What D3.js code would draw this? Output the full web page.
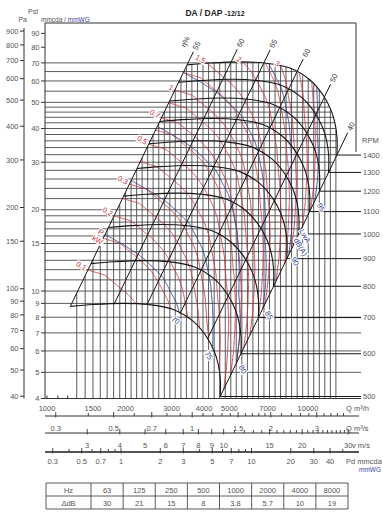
<!DOCTYPE html>
<html><head><meta charset="utf-8">
<script src="https://cdn.jsdelivr.net/npm/d3@7"></script>
<style>body{margin:0;background:#fff}svg{display:block}text{font-family:"Liberation Sans",Arial,sans-serif}</style>
</head><body><svg id="c" width="383" height="515"></svg>
<script>
// ---------- data ----------
const titleMain = "DA / DAP", titleSize = "-12/12";
const rpmValues = [500,600,700,800,900,1000,1100,1200,1300,1400];
const curveRpm = 1400;                       // reference fan curve (top of envelope)
const curveQ = [3440,4210,5490,6840,8530,10180,11420,12250,12690,12920,12910]; // m3/h
const curveP = [68.8,69.9,70.6,69.9,67.0,60.5,53.2,46.8,41.9,36.9,31.9];         // mmcda
const effValues = [55,60,65,60,50,40];
const effQ = [3440,5070,6770,9060,11540,12910];   // where each efficiency line meets the 1400 rpm curve
const powerKW = [0.1,0.2,0.3,0.5,0.7,1,1.5,2,3];             // labelled power lines
const powerKWUnlabelled = [0.15,0.25,0.4,0.6,0.85,1.25,2.5,4,5];
const powerRefQ = [3440,4100,5630,6185,7880,9500,11000,12250,12690,12920,12910]; // along 1400 rpm curve
const powerRefKW = [1.38,1.5,2.0,2.2,3.0,4.2,5.8,7.5,8.5,9.3,10];
const noiseDB = [70,75,80,85,90,95];
const noiseRefQ = [3440,5000,7000,9050,10800,12100,12910];             // along 1400 rpm curve
const noiseRefDB = [85.7,87.7,89.9,92.4,95.0,97.4,99.2];
const gridP = [9,10,11,12,13,14,15,16,17,18,19,20,22,24,26,28,30,32,34,36,38,40,42,44,46,48,50,55,60,65,70];
const fullP = [5,6,7,8];
const gridQ = [1300,1400,1500,1600,1700,1800,1900,2000,2100,2205,2315,2430,2550,2680,2815,2955,3100,3260,3420,3590,3770,
  3960,4160,4370,4590,4820,5060,5310,5580,5860,6150,6460,6780,7120,7480,7850,8240,8650,9090,9540,10020,10520,11050,11600,12180,12790];
const mmTicks = [4,5,6,7,8,9,10,15,20,30,40,50,60,70,80,90];
const paTicks = [40,50,60,70,80,90,100,150,200,300,400,500,600,700,800,900];
const qhLabels = [1000,1500,2000,3000,4000,5000,7000,10000];
const qsLabels = [0.3,0.5,0.7,1,1.5,2,3];
const qsTicks = [0.3,0.4,0.5,0.6,0.7,0.8,0.9,1,1.1,1.2,1.3,1.4,1.5,1.6,1.7,1.8,1.9,2,2.2,2.4,2.6,2.8,3,3.2,3.4,3.6,3.8];
const vLabels = [3,4,5,6,7,8,9,10,15,20,30];
const vTicks = [3,4,5,6,7,8,9,10,11,12,13,14,15,16,17,18,19,20,21,22,23,24,25,26,27,28,29,30];
const pdLabels = [0.3,0.5,0.7,1,2,3,5,7,10,20,30,40];
const pdTicks = [0.3,0.4,0.5,0.6,0.7,0.8,0.9,1,2,3,4,5,6,7,8,9,10,20,30,40,50];
const outletArea = 0.132; // m2
const hzBands = [63,125,250,500,1000,2000,4000,8000];
const deltaDB = [30,21,15,8,3.8,5.7,10,19];

// ---------- setup ----------
const svg = d3.select('#c');
const LOG = Math.log10;
const xs = d3.scaleLog().domain([1000,10000]).range([47,308]);
const ys = d3.scaleLog().domain([4,40]).range([398.5,128.5]);
const GRAY = '#4a4a4a', TXT = '#555', RED = '#c9303a', BLUE = '#2c3c8e', BLK = '#151515';
const FS = 7.5;

const bX = curveQ.map(LOG), bY = curveP.map(LOG);
const bPhi = bX.map((x,i)=>x - bY[i]/2);
const PHI0 = bPhi[0], PHI1 = bPhi[bPhi.length-1];

function pt(phi, n){
  let i=0; while(i<bPhi.length-2 && phi>bPhi[i+1]) i++;
  const t=(phi-bPhi[i])/(bPhi[i+1]-bPhi[i]);
  const X=bX[i]+t*(bX[i+1]-bX[i]), Y=bY[i]+t*(bY[i+1]-bY[i]);
  const k=LOG(n/curveRpm);
  return [xs(Math.pow(10,X+k)), ys(Math.pow(10,Y+2*k))];
}
function phiAtQ(Q){
  const X=LOG(Q);
  for(let i=bX.length-2;i>=0;i--){
    const a=bX[i], b=bX[i+1];
    if((X-a)*(X-b)<=0){ const t=(b===a)?1:(X-a)/(b-a); return bPhi[i]+t*(bPhi[i+1]-bPhi[i]); }
  }
  return X<bX[0]?PHI0:PHI1;
}
function interp(phis, vals){
  return function(phi){
    let i=0; while(i<phis.length-2 && phi>phis[i+1]) i++;
    const t=(phi-phis[i])/(phis[i+1]-phis[i]);
    return vals[i]+t*(vals[i+1]-vals[i]);
  };
}
const powLog = interp(powerRefQ.map(phiAtQ), powerRefKW.map(LOG));
const noiseAt = interp(noiseRefQ.map(phiAtQ), noiseRefDB);

function isoLine(nFn){
  const pts=[]; const N=400; let prev=null;
  const nMin=rpmValues[0], nMax=curveRpm;
  for(let j=0;j<=N;j++){
    const phi=PHI0+(PHI1-PHI0)*j/N; const n=nFn(phi);
    const inside = n>=nMin && n<=nMax;
    if(prev && prev.inside!==inside){
      let lo=prev.phi, hi=phi;
      for(let k=0;k<30;k++){ const m=(lo+hi)/2; const nm=nFn(m); const im=nm>=nMin&&nm<=nMax; if(im===prev.inside) lo=m; else hi=m; }
      const outN = inside ? prev.n : n;
      pts.push(pt((lo+hi)/2, outN<nMin?nMin:nMax));
    }
    if(inside) pts.push(pt(phi,n));
    prev={phi,n,inside};
  }
  return pts;
}
const line = d3.line();
function label(g,x,y,rot,txt,color,anchor,size,bg){
  const gg=g.append('g').attr('transform',`translate(${x},${y}) rotate(${rot})`);
  const r=gg.append('rect').attr('fill','#fff');
  const t=gg.append('text').text(txt).attr('fill',color).attr('font-size',size)
    .attr('text-anchor',anchor).attr('dominant-baseline','central');
  if(bg!==false){ const bb=t.node().getBBox(); r.attr('x',bb.x-0.6).attr('y',bb.y+0.8).attr('width',bb.width+1.2).attr('height',Math.max(0,bb.height-1.6)); }
  return gg;
}

const gGrid=svg.append('g'), gCol=svg.append('g'), gBlk=svg.append('g'), gLab=svg.append('g'), gAx=svg.append('g');

// ---------- grid ----------
function topY(X){
  const kMin=LOG(rpmValues[0]/curveRpm);
  if(X<bX[0]){ if(X<bX[0]+kMin) return null; return bY[0]+2*(X-bX[0]); }
  for(let i=0;i<bX.length-1;i++){ if(X>=bX[i]&&X<=bX[i+1]){ const t=(X-bX[i])/(bX[i+1]-bX[i]); return bY[i]+t*(bY[i+1]-bY[i]); } }
  return null;
}
function rightX(Y){
  const L=bX.length-1;
  if(Y<=bY[L]) return bX[L]+(Y-bY[L])/2;
  for(let i=L-1;i>=0;i--){ const a=bY[i], b=bY[i+1]; if((Y-a)*(Y-b)<=0){ const t=(b===a)?0:(Y-a)/(b-a); return bX[i]+t*(bX[i+1]-bX[i]); } }
  return null;
}
gridQ.forEach(q=>{
  const Y=topY(LOG(q)); if(Y===null) return;
  gGrid.append('line').attr('x1',xs(q)).attr('x2',xs(q)).attr('y1',ys(4)).attr('y2',ys(Math.pow(10,Y)))
    .attr('stroke',GRAY).attr('stroke-width',0.9);
});
gridP.forEach(p=>{
  const X=rightX(LOG(p)); if(X===null) return;
  gGrid.append('line').attr('x1',45).attr('x2',xs(Math.pow(10,X))).attr('y1',ys(p)).attr('y2',ys(p))
    .attr('stroke',GRAY).attr('stroke-width',0.9);
});
fullP.forEach(p=>{
  gGrid.append('line').attr('x1',45).attr('x2',361).attr('y1',ys(p)).attr('y2',ys(p)).attr('stroke',GRAY).attr('stroke-width',0.9);
});

// ---------- power (red) ----------
const powerLine = W=>isoLine(phi=>curveRpm*Math.cbrt(W/Math.pow(10,powLog(phi))));
powerKWUnlabelled.forEach(W=>{
  gCol.append('path').attr('d',line(powerLine(W))).attr('fill','none').attr('stroke',RED).attr('stroke-width',0.85);
});
const redPaths = powerKW.map(W=>{
  const pts=powerLine(W);
  gCol.append('path').attr('d',line(pts)).attr('fill','none').attr('stroke',RED).attr('stroke-width',0.9);
  return {W,pts};
});
// ---------- noise (blue) ----------
const bluePaths = noiseDB.map(L=>{
  const pts=isoLine(phi=>curveRpm*Math.pow(10,(L-noiseAt(phi))/50));
  gCol.append('path').attr('d',line(pts)).attr('fill','none').attr('stroke',BLUE).attr('stroke-width',0.9);
  return {L,pts};
});

// ---------- efficiency lines ----------
const effPhi = effQ.map(phiAtQ);
effPhi.forEach((phi,i)=>{
  const last = i===effPhi.length-1;
  const a=pt(phi,rpmValues[0]), b=pt(phi,last?1540:1480);
  gBlk.append('line').attr('x1',a[0]).attr('y1',a[1]).attr('x2',b[0]).attr('y2',b[1]).attr('stroke',BLK).attr('stroke-width',1);
  label(gLab,b[0]+1.5,b[1]-2.5,-64,String(effValues[i]),'#333','start',FS,true);
  if(i===0) label(gLab,b[0]-8,b[1]-10,-64,'η%','#333','middle',FS,false);
});
// ---------- rpm curves ----------
const curveLine=d3.line().curve(d3.curveCatmullRom.alpha(0.5));
rpmValues.forEach(n=>{
  const pts=bPhi.map(phi=>pt(phi,n));
  gBlk.append('path').attr('d',curveLine(pts)).attr('fill','none').attr('stroke',BLK).attr('stroke-width',1.1);
  const e=pt(PHI1,n);
  gBlk.append('line').attr('x1',e[0]).attr('x2',361).attr('y1',e[1]).attr('y2',e[1]).attr('stroke',BLK).attr('stroke-width',1);
  gAx.append('text').attr('x',363).attr('y',e[1]+2.7).attr('font-size',FS).attr('fill',TXT).text(n);
});
gAx.append('text').attr('x',362).attr('y',143).attr('font-size',FS).attr('fill',TXT).text('RPM');

// labels for coloured lines
redPaths.forEach(({W,pts})=>{
  const s=pts[0];
  label(gLab,s[0]-2,s[1]-1.5,30,String(W).replace('.',','),RED,'end',FS);
});
label(gLab,101,232,30,'P',RED,'middle',FS);
label(gLab,97.5,240,30,'kW',RED,'middle',FS);
const rb = pt(PHI1, rpmValues[0]), rt=pt(PHI1,curveRpm);
bluePaths.forEach(({L,pts})=>{
  const e=pts[pts.length-1];
  const onRight = Math.abs((e[0]-rb[0])*(rt[1]-rb[1])-(e[1]-rb[1])*(rt[0]-rb[0]))/Math.hypot(rt[0]-rb[0],rt[1]-rb[1])<1.5;
  if(onRight) label(gLab,e[0]+6,e[1]+7,60,String(L),BLUE,'middle',FS);
  else label(gLab,e[0]-4,e[1]+7,L<73?35:60,String(L),BLUE,'middle',FS);
});
label(gLab,305,236,60,'LwA',BLUE,'middle',FS);
label(gLab,300.5,247,60,'dB(A)',BLUE,'middle',FS);

// ---------- frame & left axes ----------
gAx.append('line').attr('x1',45).attr('x2',356).attr('y1',23).attr('y2',23).attr('stroke','#333').attr('stroke-width',1);
gAx.append('line').attr('x1',356).attr('x2',356).attr('y1',23).attr('y2',152).attr('stroke','#333').attr('stroke-width',1);
gAx.append('line').attr('x1',45).attr('x2',45).attr('y1',23).attr('y2',ys(4)).attr('stroke','#333').attr('stroke-width',1);
gAx.append('line').attr('x1',45).attr('x2',361).attr('y1',ys(4)).attr('y2',ys(4)).attr('stroke','#333').attr('stroke-width',1);
mmTicks.forEach(v=>{
  gAx.append('line').attr('x1',41).attr('x2',45).attr('y1',ys(v)).attr('y2',ys(v)).attr('stroke','#333');
  gAx.append('text').attr('x',39.5).attr('y',ys(v)+2.7).attr('text-anchor','end').attr('font-size',FS).attr('fill',TXT).text(v);
});
gAx.append('line').attr('x1',24).attr('x2',24).attr('y1',28).attr('y2',ys(4)).attr('stroke','#333').attr('stroke-width',1);
paTicks.forEach(v=>{
  const y=ys(v/9.80665);
  gAx.append('line').attr('x1',20).attr('x2',24).attr('y1',y).attr('y2',y).attr('stroke','#333');
  gAx.append('text').attr('x',18.5).attr('y',y+2.7).attr('text-anchor','end').attr('font-size',FS).attr('fill',TXT).text(v);
});
gAx.append('text').attr('x',28).attr('y',14).attr('font-size',7).attr('fill',TXT).text('Pst');
gAx.append('text').attr('x',27).attr('y',22).attr('text-anchor','end').attr('font-size',7).attr('fill',TXT).text('Pa');
const hdr=gAx.append('text').attr('x',41).attr('y',22).attr('font-size',6.5).attr('fill',TXT);
hdr.append('tspan').text('mmcda / ');
hdr.append('tspan').attr('fill','#3b3f9a').text('mmWG');
const ttl=gAx.append('text').attr('x',215).attr('y',16).attr('text-anchor','middle').attr('fill','#222');
ttl.append('tspan').attr('font-size',8.5).attr('font-weight','bold').text(titleMain+' ');
ttl.append('tspan').attr('font-size',7).attr('font-weight','bold').text(titleSize);

// ---------- bottom axes ----------
[1000,1100,1200].forEach(q=>gAx.append('line').attr('x1',xs(q)).attr('x2',xs(q)).attr('y1',ys(4)).attr('y2',ys(4)-3).attr('stroke','#333'));
qhLabels.forEach(q=>gAx.append('text').attr('x',xs(q)).attr('y',411).attr('text-anchor','middle').attr('font-size',FS).attr('fill',TXT).text(q));
gAx.append('text').attr('x',346).attr('y',411).attr('font-size',FS).attr('fill',TXT).text('Q m³/h');

function scaleRow(y, ticks, labels, toQ, ly, name, nx, thick){
  gAx.append('line').attr('x1',45).attr('x2',359).attr('y1',y).attr('y2',y).attr('stroke',thick?'#555':'#333').attr('stroke-width',thick?2.2:1);
  ticks.forEach(v=>{ const x=xs(toQ(v)); if(x>358) return; const major=labels.includes(v);
    gAx.append('line').attr('x1',x).attr('x2',x).attr('y1',y-(major?4:3)).attr('y2',y+(major?1.5:0)).attr('stroke','#333').attr('stroke-width',0.9); });
  labels.forEach(v=>gAx.append('text').attr('x',xs(toQ(v))).attr('y',ly).attr('text-anchor','middle').attr('font-size',FS).attr('fill',TXT).text(v));
  gAx.append('text').attr('x',nx).attr('y',ly).attr('font-size',FS).attr('fill',TXT).text(name);
}
scaleRow(416, qsTicks, qsLabels, v=>v*3600, 431, 'Q m³/s', 346, false);
scaleRow(433, vTicks, vLabels, v=>v*outletArea*3600, 448, 'v m/s', 352, false);
const pdToV = pd=>Math.sqrt(pd*9.80665/0.6);
scaleRow(452, pdTicks, pdLabels, pd=>pdToV(pd)*outletArea*3600, 464, 'Pd mmcda', 346, true);
gAx.append('text').attr('x',381).attr('y',472).attr('text-anchor','end').attr('font-size',6.5).attr('fill','#3b3f9a').text('mmWG');

// ---------- table ----------
const tT=483, tM=496, tB=509, tL=46, tC=91, tR=348;
const cw=(tR-tC)/hzBands.length;
const gT=gAx.append('g').attr('stroke','#333').attr('stroke-width',0.8);
[tT,tM,tB].forEach(y=>gT.append('line').attr('x1',tL).attr('x2',tR).attr('y1',y).attr('y2',y));
[tL,tC].concat(hzBands.map((d,i)=>tC+cw*(i+1))).forEach(x=>gT.append('line').attr('x1',x).attr('x2',x).attr('y1',tT).attr('y2',tB));
gAx.append('text').attr('x',(tL+tC)/2).attr('y',tT+9.5).attr('text-anchor','middle').attr('font-size',FS).attr('fill',TXT).text('Hz');
gAx.append('text').attr('x',(tL+tC)/2).attr('y',tM+9.5).attr('text-anchor','middle').attr('font-size',FS).attr('fill',TXT).text('ΔdB');
hzBands.forEach((h,i)=>{
  const cx=tC+cw*(i+0.5);
  gAx.append('text').attr('x',cx).attr('y',tT+9.5).attr('text-anchor','middle').attr('font-size',FS).attr('fill',TXT).text(h);
  gAx.append('text').attr('x',cx).attr('y',tM+9.5).attr('text-anchor','middle').attr('font-size',FS).attr('fill',TXT).text(deltaDB[i]);
});
</script></body></html>
